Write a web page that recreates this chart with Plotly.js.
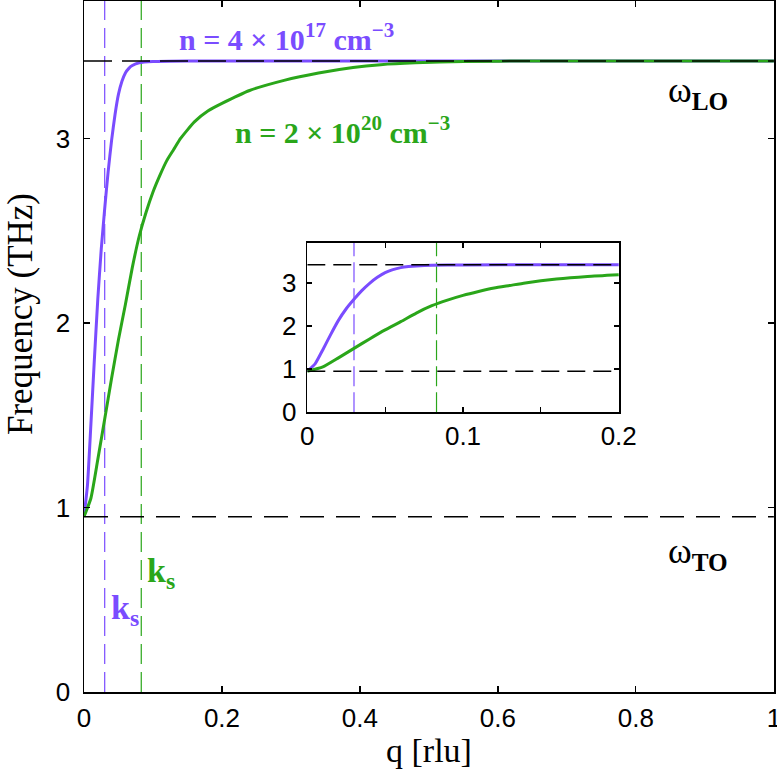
<!DOCTYPE html>
<html>
<head>
<meta charset="utf-8">
<script src="https://cdn.plot.ly/plotly-3.0.1.min.js"></script>
<style>
  body { margin: 0; background: white; }
  #chart { width: 777px; height: 769px; }
</style>
</head>
<body>
<div id="chart"></div>
<script>
// phonon-plasmon branch, low density (purple) and high density (green)
const q_purple = [0, 0.005, 0.010, 0.015, 0.020, 0.025, 0.030, 0.035, 0.040, 0.045, 0.050, 0.055, 0.060, 0.065, 0.070, 0.080, 0.100, 0.150, 0.300, 0.600, 1.0]
const f_purple = [0.95, 1.12, 1.45, 1.80, 2.13, 2.40, 2.62, 2.82, 2.99, 3.13, 3.24, 3.31, 3.355, 3.38, 3.395, 3.41, 3.417, 3.42, 3.42, 3.42, 3.42]

const q_green = [0, 0.010, 0.020, 0.030, 0.040, 0.050, 0.060, 0.070, 0.080, 0.090, 0.100, 0.110, 0.120, 0.130, 0.140, 0.160, 0.180, 0.200, 0.240, 0.290, 0.340, 0.390, 0.430, 0.480, 0.550, 0.650, 1.0]
const f_green = [0.95, 1.05, 1.26, 1.48, 1.70, 1.91, 2.10, 2.30, 2.47, 2.60, 2.71, 2.80, 2.88, 2.94, 3.00, 3.09, 3.15, 3.19, 3.26, 3.315, 3.355, 3.385, 3.40, 3.41, 3.417, 3.42, 3.42]

const w_LO = 3.42
const w_TO = 0.95
const ks_purple = 0.030
const ks_green = 0.083

const purple = '#7a4cff'
const green = '#2aa61a'

const main_x = [0, 0.2, 0.4, 0.6, 0.8, 1]
const main_x_text = ['0', '0.2', '0.4', '0.6', '0.8', '1']
const main_y = [0, 1, 2, 3]
const inset_x = [0, 0.05, 0.1, 0.15, 0.2]
const inset_x_text = ['0', '', '0.1', '', '0.2']
const inset_y = [0, 1, 2, 3]

const y_top = 3.745
const y_top_inset = 3.93

function upto(qs, fs, qmax) {
    let x = [], y = []
    for (let i = 0; i < qs.length; i++) {
        if (qs[i] <= qmax + 1e-9) { x.push(qs[i]); y.push(fs[i]) }
    }
    return [x, y]
}

function vline(xv, ytop, color, ax, dash) {
    return {
        x: [xv, xv], y: [0, ytop], mode: 'lines', type: 'scatter',
        xaxis: ax[0], yaxis: ax[1], hoverinfo: 'skip',
        line: { color: color, width: 1.2, dash: dash }
    }
}

function hline(yv, xmax, ax, dash) {
    return {
        x: [0, xmax], y: [yv, yv], mode: 'lines', type: 'scatter',
        xaxis: ax[0], yaxis: ax[1], hoverinfo: 'skip',
        line: { color: 'black', width: 1.4, dash: dash }
    }
}

function curve(x, y, color, ax) {
    return {
        x: x, y: y, mode: 'lines', type: 'scatter',
        xaxis: ax[0], yaxis: ax[1],
        line: { color: color, width: 3, shape: 'spline', smoothing: 0.5 }
    }
}

const main_ax = ['x', 'y']
const ins_ax = ['x2', 'y2']
const [qpi, fpi] = upto(q_purple, f_purple, 0.2)
const [qgi, fgi] = upto(q_green, f_green, 0.2)
qpi.push(0.2); fpi.push(3.42)

let data = [
    vline(ks_purple, y_top, purple, main_ax, '20px,8px'),
    vline(ks_green, y_top, green, main_ax, '20px,8px'),
    curve(q_purple, f_purple, purple, main_ax),
    curve(q_green, f_green, green, main_ax),
    hline(w_LO, 1, main_ax, '28px,10px'),
    hline(w_TO, 1, main_ax, '24px,12px'),

    vline(ks_purple, y_top_inset, purple, ins_ax, '20px,6px'),
    vline(ks_green, y_top_inset, green, ins_ax, '20px,6px'),
    curve(qpi, fpi, purple, ins_ax),
    curve(qgi, fgi, green, ins_ax),
    hline(w_LO, 0.2, ins_ax, '18px,8px'),
    hline(w_TO, 0.2, ins_ax, '18px,8px'),
]

const tick_font = { family: 'Liberation Sans, Arial, sans-serif', size: 26, color: 'black' }
const serif = 'Liberation Serif, Times New Roman, serif'

function axis_common() {
    return {
        showline: true, mirror: 'ticks', linecolor: 'black', linewidth: 1.5,
        ticks: 'inside', ticklen: 6, tickwidth: 1.2, tickcolor: 'black',
        showgrid: false, zeroline: false, tickfont: tick_font, fixedrange: true,
        ticklabeloverflow: 'allow'
    }
}

let layout = {
    width: 777, height: 769,
    margin: { l: 84, r: 3, t: 1, b: 77 },
    paper_bgcolor: 'white', plot_bgcolor: 'white',
    showlegend: false,
    xaxis: Object.assign(axis_common(), {
        range: [0, 1.0002], tickvals: main_x, ticktext: main_x_text, ticklabelstandoff: 2,
        title: { text: 'q [rlu]', font: { family: serif, size: 34, color: 'black' }, standoff: 9 }
    }),
    yaxis: Object.assign(axis_common(), {
        range: [0, y_top], tickvals: main_y, ticklabelstandoff: 7
    }),
    xaxis2: Object.assign(axis_common(), {
        range: [0, 0.2002], tickvals: inset_x, ticktext: inset_x_text,
        domain: [0.3236, 0.7754], anchor: 'y2', ticklen: 5
    }),
    yaxis2: Object.assign(axis_common(), {
        range: [0, y_top_inset], tickvals: inset_y, ticklabelstandoff: 4,
        domain: [0.405, 0.650], anchor: 'x2', ticklen: 5
    }),
    annotations: [
        {
            x: 0.294, y: 3.55, xref: 'x', yref: 'y', showarrow: false,
            text: '<b>n = 4 × 10<sup>17</sup> cm<sup>−3</sup></b>',
            font: { family: serif, size: 30, color: purple }
        },
        {
            x: 0.375, y: 3.045, xref: 'x', yref: 'y', showarrow: false,
            text: '<b>n = 2 × 10<sup>20</sup> cm<sup>−3</sup></b>',
            font: { family: serif, size: 30, color: green }
        },
        {
            x: 0.89, y: 3.25, xref: 'x', yref: 'y', showarrow: false,
            text: 'ω<sub><b>LO</b></sub>',
            font: { family: serif, size: 36, color: 'black' }
        },
        {
            x: 0.89, y: 0.752, xref: 'x', yref: 'y', showarrow: false,
            text: 'ω<sub><b>TO</b></sub>',
            font: { family: serif, size: 36, color: 'black' }
        },
        {
            x: 0.06, y: 0.443, xref: 'x', yref: 'y', showarrow: false,
            text: '<b>k<sub>s</sub></b>',
            font: { family: serif, size: 34, color: purple }
        },
        {
            x: 0.112, y: 0.643, xref: 'x', yref: 'y', showarrow: false,
            text: '<b>k<sub>s</sub></b>',
            font: { family: serif, size: 34, color: green }
        },
        {
            x: 20, y: 314, xref: 'paper', yref: 'paper', showarrow: false,
            xanchor: 'center', yanchor: 'middle', textangle: -90,
            text: 'Frequency (THz)',
            font: { family: serif, size: 35, color: 'black' }
        }
    ]
}

// y title placed in pixels from the top-left, converted to paper coords
const plot_w = 777 - 84 - 3, plot_h = 769 - 1 - 77
layout.annotations[6].x = (20 - 84) / plot_w
layout.annotations[6].y = (769 - 77 - 314) / plot_h

Plotly.newPlot('chart', data, layout, { displayModeBar: false, staticPlot: true })
</script>
</body>
</html>
